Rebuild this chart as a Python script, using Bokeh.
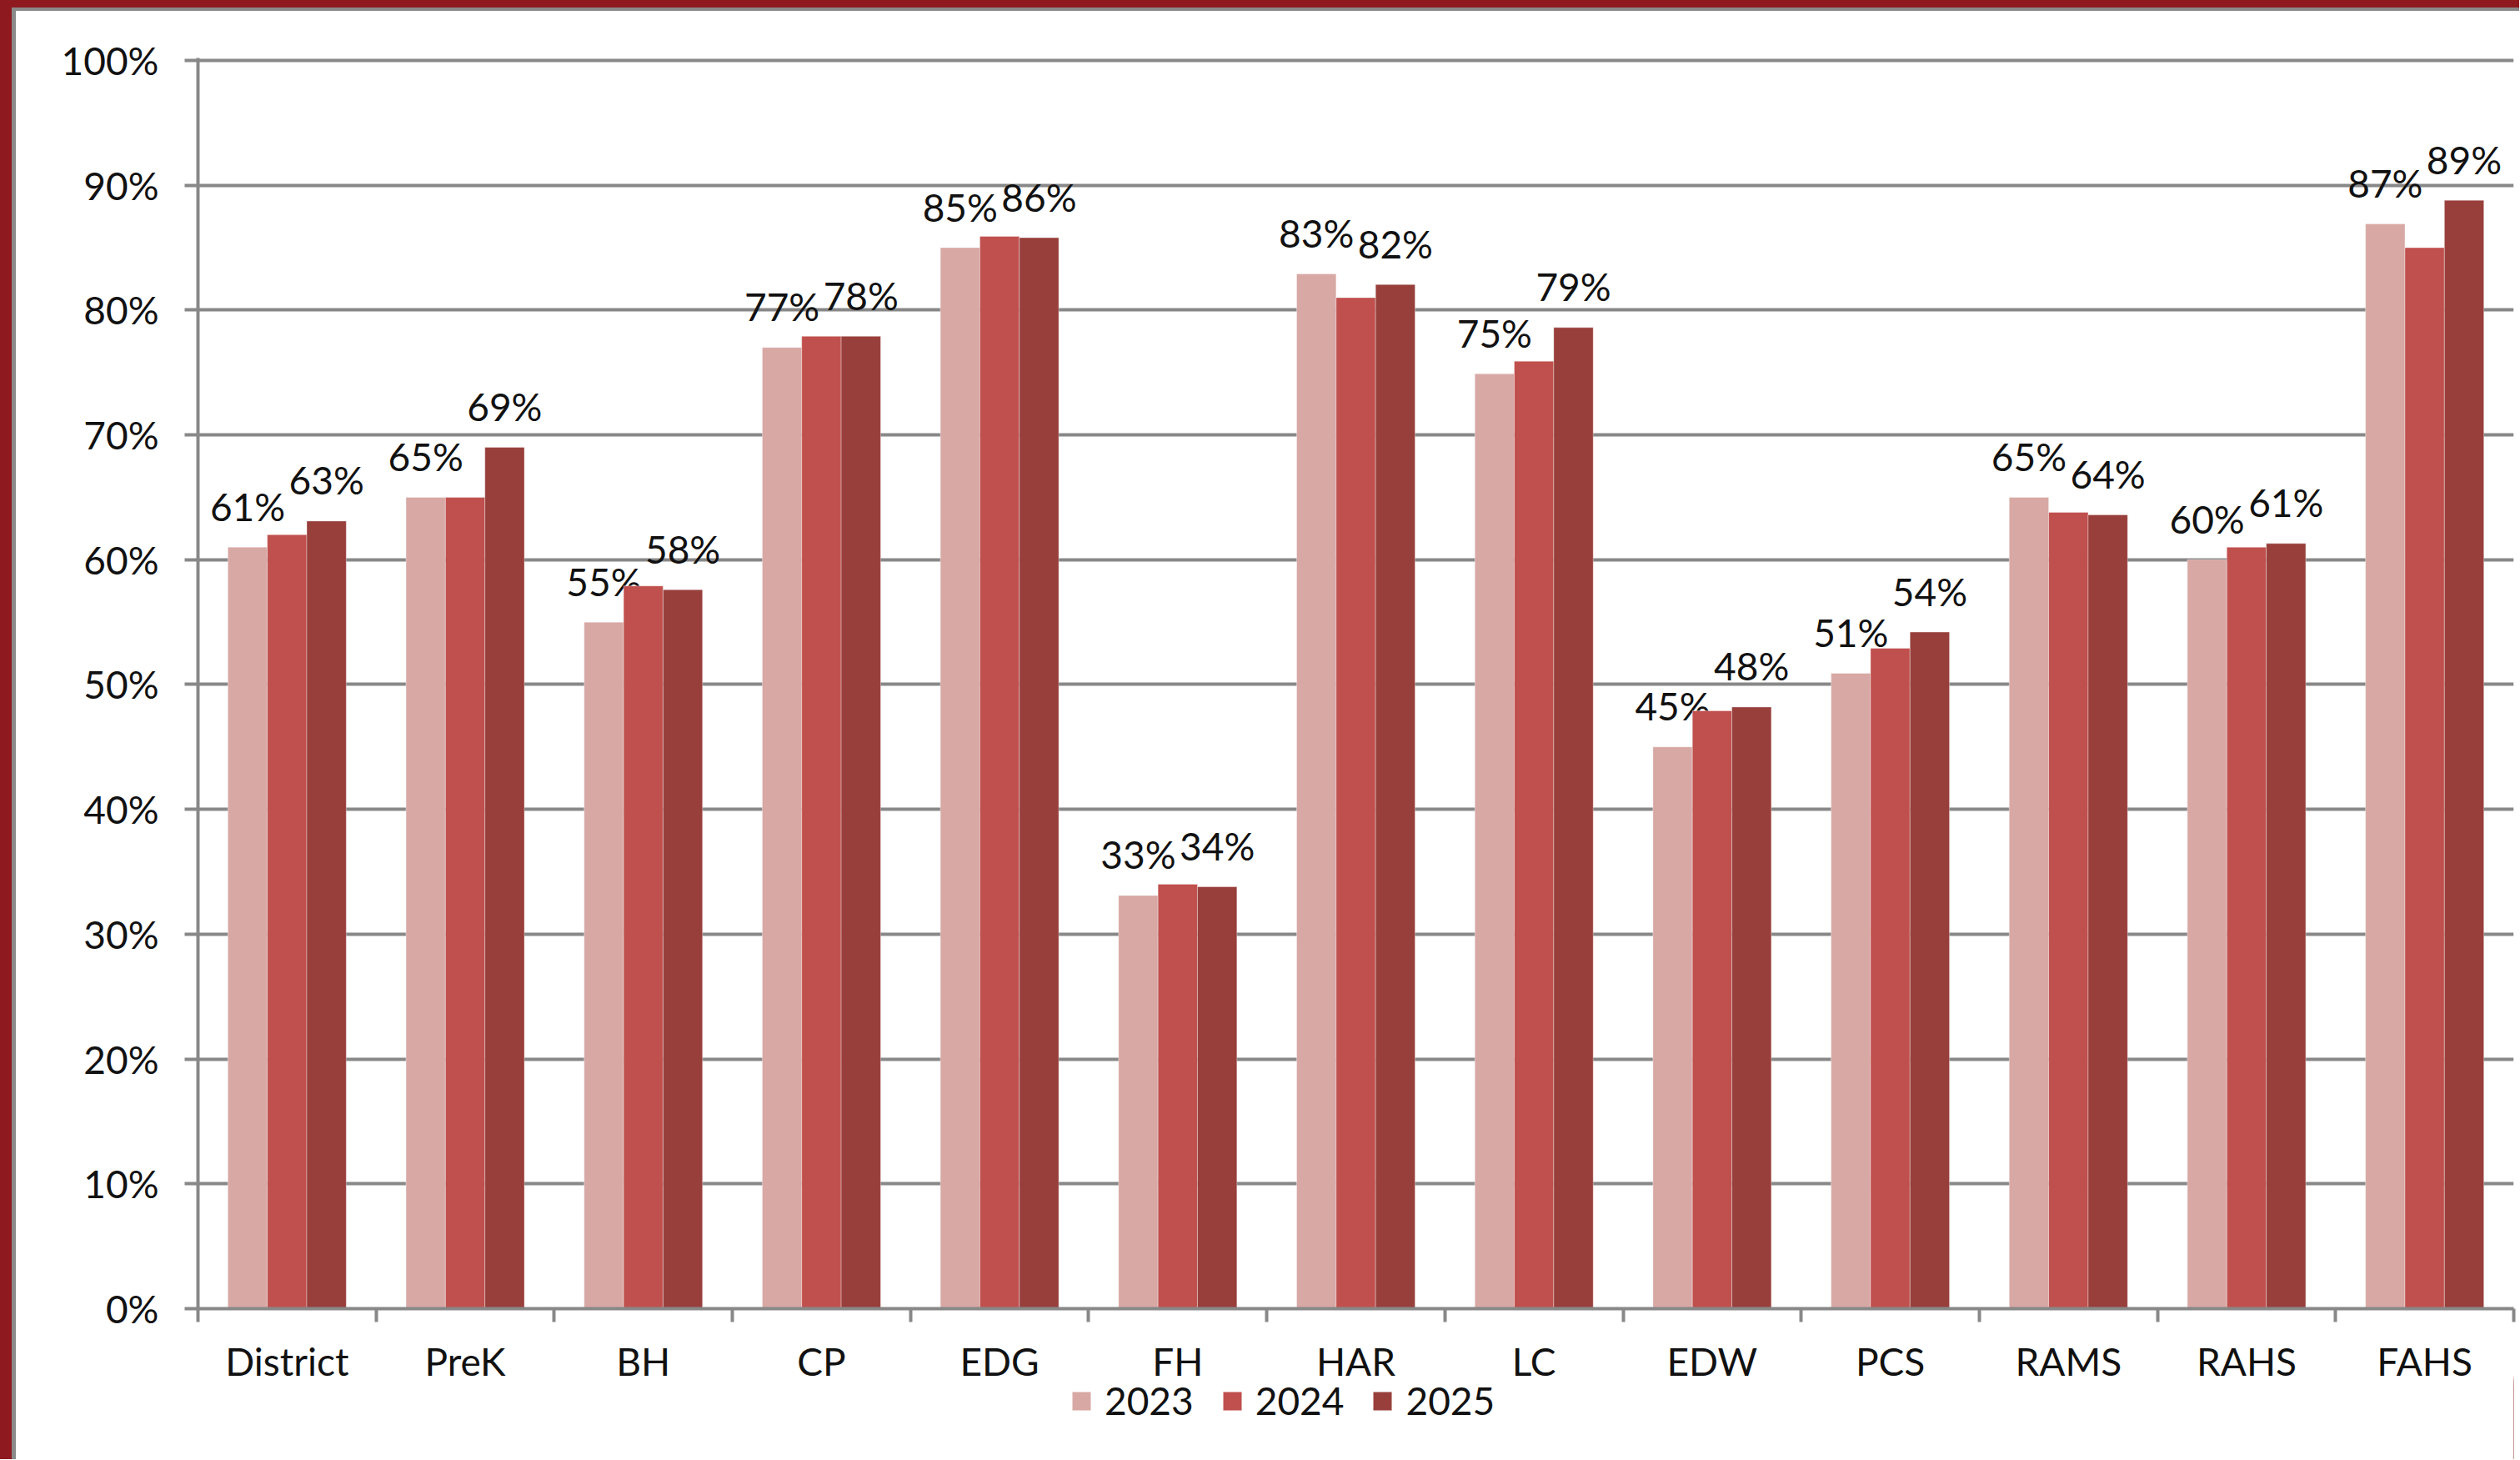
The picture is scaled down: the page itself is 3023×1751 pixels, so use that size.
import numpy as np
from bokeh.plotting import figure
from bokeh.layouts import column
from bokeh.models import (ColumnDataSource, Range1d, FixedTicker, LinearAxis, Grid,
                          NumeralTickFormatter, Legend, LegendItem)
from bokeh.core.properties import value
from bokeh.embed import file_html
from bokeh.resources import INLINE

# ---------------- data ----------------
schools = ["District", "PreK", "BH", "CP", "EDG", "FH", "HAR", "LC",
           "EDW", "PCS", "RAMS", "RAHS", "FAHS"]
years = ["2023", "2024", "2025"]
v2023 = [0.610, 0.650, 0.550, 0.770, 0.850, 0.331, 0.829, 0.749, 0.450, 0.509, 0.650, 0.600, 0.869]
v2024 = [0.620, 0.650, 0.579, 0.779, 0.859, 0.340, 0.810, 0.759, 0.479, 0.529, 0.638, 0.610, 0.850]
v2025 = [0.631, 0.690, 0.576, 0.779, 0.858, 0.338, 0.8205, 0.786, 0.482, 0.542, 0.636, 0.613, 0.888]
labelled_years = ["2023", "2025"]
y_ticks = [0.0, 0.1, 0.2, 0.3, 0.4, 0.5, 0.6, 0.7, 0.8, 0.9, 1.0]

# ---------------- style ----------------
colors = {"2023": "#D8A8A5", "2024": "#C0504D", "2025": "#983F3B"}
FONT = value("Lato")
FS = "46px"
GRAY = "#888888"
TXT = "#111111"
BAR_W = 0.2215
W = 3022
H_MAIN = 1662
OVERLAP = 24
H_LEG = 88 + OVERLAP

series = dict(zip(years, [v2023, v2024, v2025]))
idx = np.arange(len(schools))

p = figure(width=W, height=H_MAIN, output_backend="svg", toolbar_location=None,
           x_range=Range1d(0, len(schools)), y_range=Range1d(0, 1.002),
           min_border_left=237, min_border_right=7, min_border_top=69,
           min_border_bottom=H_MAIN - 1571, x_axis_type=None, y_axis_type=None)
p.border_fill_color = None
p.background_fill_color = "white"
p.outline_line_color = None

# axes
yax = LinearAxis(ticker=FixedTicker(ticks=y_ticks),
                 formatter=NumeralTickFormatter(format="0%"))
yax.axis_line_color = GRAY
yax.axis_line_width = 4
yax.major_tick_line_color = GRAY
yax.major_tick_line_width = 4
yax.major_tick_out = 16
yax.major_tick_in = 0
yax.minor_tick_line_color = None
yax.major_label_standoff = 31
yax.major_label_text_font = "Lato"
yax.major_label_text_font_size = FS
yax.major_label_text_color = TXT
p.add_layout(yax, "left")

xax = LinearAxis(ticker=FixedTicker(ticks=[i + 0.5 for i in idx],
                                    minor_ticks=[float(i) for i in range(len(schools) + 1)]))
xax.major_label_overrides = {float(i) + 0.5: s for i, s in enumerate(schools)}
xax.axis_line_color = GRAY
xax.axis_line_width = 4
xax.major_tick_line_color = None
xax.major_tick_out = 0
xax.major_tick_in = 0
xax.minor_tick_line_color = GRAY
xax.minor_tick_line_width = 4
xax.minor_tick_out = 16
xax.minor_tick_in = 0
xax.major_label_standoff = 19
xax.major_label_text_font = "Lato"
xax.major_label_text_font_size = FS
xax.major_label_text_color = TXT
p.add_layout(xax, "below")

# grid
yg = Grid(dimension=1, ticker=FixedTicker(ticks=y_ticks))
yg.grid_line_color = GRAY
yg.grid_line_width = 4
p.add_layout(yg)

# bars
sources = {}
for k, yr in enumerate(years):
    vals = series[yr]
    src = ColumnDataSource(dict(
        x=idx + 0.5 + (k - 1) * BAR_W,
        top=vals,
        lab=[f"{round(v * 100)}%" for v in vals],
    ))
    sources[yr] = src
    p.vbar(x="x", top="top", width=BAR_W, source=src,
           fill_color=colors[yr], line_color="white", line_alpha=0.35, line_width=1)
    if yr in labelled_years:
        p.text(x="x", y="top", text="lab", source=src, text_align="center",
               text_baseline="alphabetic", y_offset=-49, text_font=FONT,
               text_font_size=FS, text_color=TXT)

# legend strip (transparent canvas slightly overlapping the chart's bottom margin;
# its view range shows no bars)
lg = figure(width=W, height=H_LEG, output_backend="svg", toolbar_location=None,
            x_range=Range1d(-3, -2), y_range=Range1d(0, 1),
            min_border=0, x_axis_type=None, y_axis_type=None)
lg.border_fill_color = None
lg.background_fill_color = None
lg.outline_line_color = None
lg.xgrid.visible = False
lg.ygrid.visible = False
lg.margin = (-OVERLAP, 0, 0, 0)
items = []
for yr in years:
    r = lg.vbar(x="x", top="top", width=BAR_W, source=sources[yr],
                fill_color=colors[yr], line_color="white", line_alpha=0.35, line_width=1)
    items.append(LegendItem(label=yr, renderers=[r]))
legend = Legend(items=items, location=(1046, 43), orientation="horizontal",
                glyph_width=28, glyph_height=28, label_standoff=14, spacing=32,
                padding=0, margin=0, border_line_color=None, background_fill_alpha=0,
                label_text_font="Lato", label_text_font_size=FS, label_text_color=TXT)
lg.add_layout(legend)

layout = column(p, lg, spacing=0)
layout.styles = {
    "background-color": "white",
    "box-shadow": "inset 14px 9px 0 0 #8E1A1F, inset 19px 13px 0 0 #8A8A8A",
}

open("out.html", "w").write(file_html(layout, INLINE))
